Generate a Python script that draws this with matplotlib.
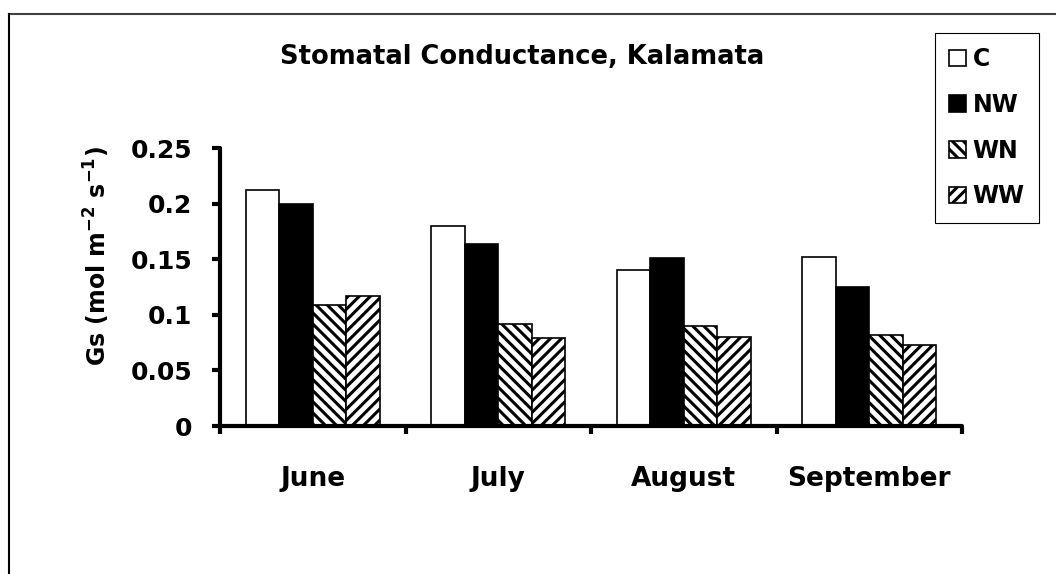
import numpy as np
import matplotlib
matplotlib.use("Agg")
import matplotlib.pyplot as plt
from matplotlib.lines import Line2D

plt.rcParams["font.family"] = ["DejaVu Sans"]
plt.rcParams["font.weight"] = "bold"
plt.rcParams["mathtext.default"] = "bf"
plt.rcParams["hatch.linewidth"] = 2.2

months = ["June", "July", "August", "September"]
series_names = ["C", "NW", "WN", "WW"]
c_vals = [0.212, 0.180, 0.140, 0.152]
nw_vals = [0.200, 0.164, 0.151, 0.125]
wn_vals = [0.109, 0.092, 0.090, 0.082]
ww_vals = [0.117, 0.079, 0.080, 0.073]
y_ticks = [0, 0.05, 0.1, 0.15, 0.2, 0.25]
y_tick_labels = ["0", "0.05", "0.1", "0.15", "0.2", "0.25"]

fills = ["white", "black", "white", "white"]
hatches = [None, None, "\\\\\\", "///"]

W, H = 1056, 574
fig = plt.figure(figsize=(W / 100, H / 100), dpi=100)
ax = fig.add_axes([220 / W, 1 - 426 / H, 742 / W, 278 / H])

x = np.arange(len(months))
bw = 0.181
for i, (vals, name) in enumerate(zip([c_vals, nw_vals, wn_vals, ww_vals], series_names)):
    ax.bar(x + (i - 1.5) * bw, vals, width=bw, color=fills[i], edgecolor="black",
           linewidth=1.2, hatch=hatches[i], label=name)

ax.set_xlim(-0.5, len(months) - 0.5)
ax.set_ylim(0, 0.25)
ax.set_yticks(y_ticks)
ax.set_yticklabels(y_tick_labels)

# category boundaries as major ticks, labels on minor ticks at centres
ax.set_xticks(np.arange(len(months) + 1) - 0.5)
ax.set_xticklabels([])
ax.set_xticks(x, minor=True)
ax.set_xticklabels(months, minor=True)

for s in ["top", "right"]:
    ax.spines[s].set_visible(False)
for s in ["left", "bottom"]:
    ax.spines[s].set_linewidth(3)
    ax.spines[s].set_capstyle("round")

ax.tick_params(axis="both", which="major", direction="out", length=6, width=3)
ax.tick_params(axis="y", labelsize=18, pad=14)
ax.tick_params(axis="x", which="minor", length=0, labelsize=19, pad=29)

fig.text(97 / W, 1 - 256 / H, "Gs (mol m$^{-2}$ s$^{-1}$)", rotation=90,
         ha="center", va="center", fontsize=17, fontweight="bold")
fig.text(522 / W, 1 - 57 / H, "Stomatal Conductance, Kalamata",
         ha="center", va="center", fontsize=18.5, fontweight="bold")

leg = fig.legend(loc="upper left", bbox_to_anchor=(935 / W, 1 - 33 / H),
                 borderaxespad=0, fancybox=False, framealpha=1, edgecolor="black",
                 fontsize=17, handlelength=0.7, handleheight=0.7, handletextpad=0.3,
                 labelspacing=0.92, borderpad=0.6)
leg.get_frame().set_linewidth(0.8)

# outer chart-area border (top and left are visible)
fig.add_artist(Line2D([9 / W, 1], [1 - 14 / H, 1 - 14 / H], color="#404040", linewidth=1.5))
fig.add_artist(Line2D([9 / W, 9 / W], [0, 1 - 14 / H], color="black", linewidth=1.5))

fig.savefig("out.png", dpi=100)
